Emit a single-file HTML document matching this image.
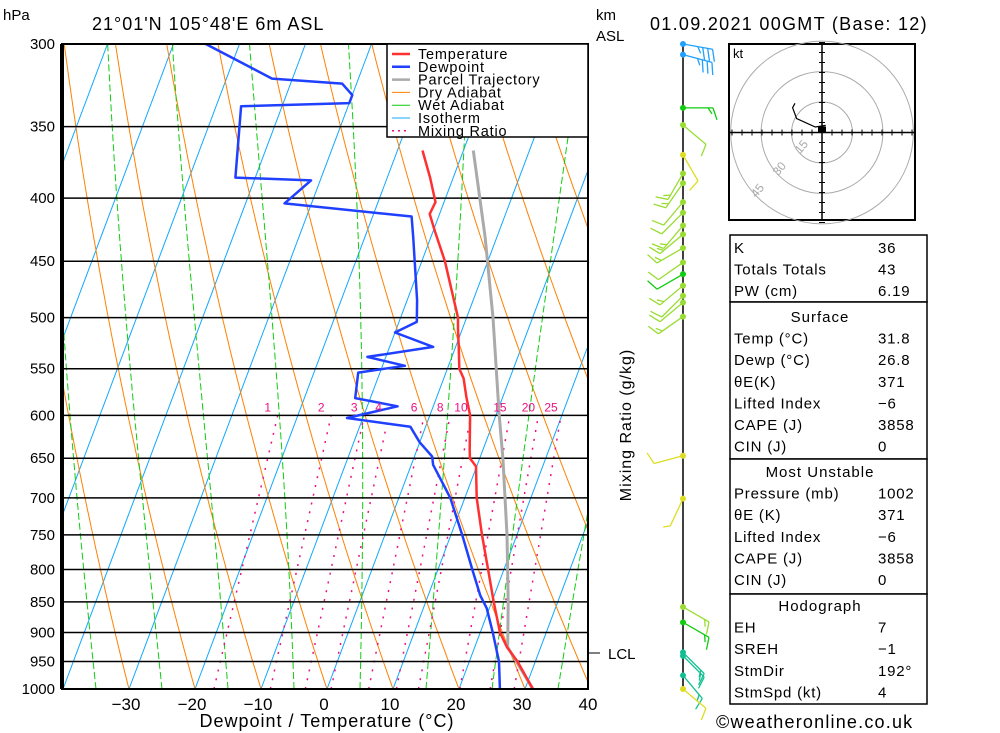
<!DOCTYPE html>
<html><head><meta charset="utf-8">
<style>
html,body{margin:0;padding:0;background:#fff;}
svg{display:block;font-family:"Liberation Sans",sans-serif;}
</style></head>
<body>
<svg id="chart" width="1000" height="733" viewBox="0 0 1000 733" xmlns="http://www.w3.org/2000/svg">
<defs><clipPath id="plotclip"><rect x="62" y="44" width="526" height="645"/></clipPath></defs>
<g id="bg" clip-path="url(#plotclip)"></g>
<g id="plines"></g>
<g id="series" clip-path="url(#plotclip)"></g>
<rect x="62" y="44" width="526" height="645" fill="none" stroke="#000" stroke-width="2"/>
<line x1="62" y1="44" x2="62" y2="689" stroke="#000" stroke-width="4"/>
<g id="legend">
<rect x="387" y="44" width="201" height="93" fill="#fff" stroke="#000" stroke-width="1.5"/>
</g>
<g id="axes"></g>
<text x="3" y="20" font-size="15">hPa</text>
<text x="92" y="30" font-size="18" letter-spacing="1">21°01'N  105°48'E  6m  ASL</text>
<text x="596" y="20" font-size="15">km</text>
<text x="596" y="41" font-size="15">ASL</text>
<text x="650" y="30" font-size="18" letter-spacing="1.3">01.09.2021  00GMT  (Base: 12)</text>
<text x="327" y="727" font-size="18" letter-spacing="1" text-anchor="middle">Dewpoint / Temperature (°C)</text>
<text transform="translate(631,425) rotate(-90)" font-size="16" letter-spacing="1" text-anchor="middle">Mixing Ratio (g/kg)</text>
<line x1="588" y1="653" x2="600" y2="653" stroke="#000"/>
<text x="608" y="659" font-size="15">LCL</text>
<line x1="683" y1="44" x2="683" y2="690" stroke="#000" stroke-width="1.5"/>
<g id="barbs"></g>
<g id="hodo">
<rect x="729" y="44" width="186" height="176" fill="#fff" stroke="#000" stroke-width="2"/>
<text x="733" y="58" font-size="13">kt</text>
</g>
<g id="tables"></g>
<text x="716" y="728" font-size="18" letter-spacing="1.2">©weatheronline.co.uk</text>
</svg>
<script>
// ---- data ----
const tempP=[1000,950,925,900,850,800,750,700,660,650,640,600,580,560,550,530,510,500,450,425,412,403,385,366];
const tempT=[31.2,27.3,24.9,23.0,20.3,17.6,14.7,11.8,9.9,8.5,8.0,6.1,4.5,3.0,1.8,0.6,-0.7,-1.3,-6.5,-9.8,-11.5,-11.3,-13.5,-16.2];
const dewP=[1000,950,900,860,840,800,750,700,680,658,648,631,613,603,590,581,554,547,538,528,514,504,484,430,414,404,387,385,337,335,330,323,320,300];
const dewT=[26.2,24.5,21.9,19.6,17.9,15.2,11.7,7.8,5.7,3.3,2.7,0.0,-2.3,-12.4,-5.4,-12.3,-13.3,-6.6,-12.8,-3.4,-10.0,-7.3,-8.5,-12.7,-14.1,-34.1,-31.4,-43.0,-46.2,-30.0,-30.0,-32.2,-43.1,-55.1];
const parcelP=[1000,925,850,750,650,600,500,430,366];
const parcelT=[31.2,25.0,22.5,18.5,13.5,10.5,4.0,-1.8,-8.5];
const pressureTicks=[300,350,400,450,500,550,600,650,700,750,800,850,900,950,1000];
const tempTicks=[-30,-20,-10,0,10,20,30,40];
const mixRatios=[1,2,3,4,6,8,10,15,20,25];
const barbP=[300,306,338,349,369,382,389,403,411,421,428,439,451,461,471,480,486,499,647,701,858,883,934,940,975,1000];
const barbDir=[100,105,90,130,150,210,215,220,225,220,230,240,235,240,230,225,230,235,255,205,120,120,135,135,140,130];
const barbSpd=[35,35,15,10,10,15,15,10,10,15,15,15,10,10,15,10,10,15,10,5,15,15,15,15,15,10];
const barbCol=["#20a0ff","#20a0ff","#10cc10","#99dd33","#dddd22","#99dd33","#99dd33","#99dd33","#99dd33","#99dd33","#99dd33","#99dd33","#99dd33","#10cc10","#99dd33","#99dd33","#99dd33","#99dd33","#dddd22","#dddd22","#99dd33","#10cc10","#10c090","#10c090","#10c090","#dddd22"];
const hodoU=[1.8,-3.3,-12.5,-14.5,-13.3];
const hodoV=[3.5,2.7,6.9,12.2,14.4];
const hodoRings=[15,30,45];
const tableRows=[
 ["K","36"],["Totals Totals","43"],["PW (cm)","6.19"],
 ["#Surface"],["Temp (°C)","31.8"],["Dewp (°C)","26.8"],["θE(K)","371"],["Lifted Index","−6"],["CAPE (J)","3858"],["CIN (J)","0"],
 ["#Most Unstable"],["Pressure (mb)","1002"],["θE (K)","371"],["Lifted Index","−6"],["CAPE (J)","3858"],["CIN (J)","0"],
 ["#Hodograph"],["EH","7"],["SREH","−1"],["StmDir","192°"],["StmSpd (kt)","4"]];

// ---- axes ----
const NS="http://www.w3.org/2000/svg";
function Y(p){return 44+Math.log(p/300)/Math.log(1000/300)*645;}
function X(T,p){return 327+6.6*T+(689-Y(p))/2.66;}
function mk(tag,attrs,parent){const e=document.createElementNS(NS,tag);for(const k in attrs)e.setAttribute(k,attrs[k]);parent.appendChild(e);return e;}
const bg=document.getElementById('bg');
for(let T=-120;T<=40;T+=10){
 const l=mk('line',{x1:X(T,1000),y1:Y(1000),x2:X(T,300),y2:Y(300),stroke:'#10a8ff','stroke-width':1},bg);
 
 
}
for(let T0=-60;T0<=150;T0+=10){
 let d='';
 for(let p=1000;p>=300;p-=10){const T=(T0+273.15)*Math.pow(p/1000,0.21)-273.15;d+=(p==1000?'M':'L')+X(T,p).toFixed(1)+','+Y(p).toFixed(1);}
 const e=mk('path',{d:d,fill:'none',stroke:'#ff8000','stroke-width':1},bg);
 
 
}
function es(Tc){return 6.112*Math.exp(17.67*Tc/(Tc+243.5));}
for(let T0=-45;T0<=45;T0+=10){
 let T=T0+273.15,d='M'+X(T0,1000).toFixed(1)+','+Y(1000).toFixed(1);
 for(let p=1000;p>300;p-=5){
  const e=es(T-273.15),rs=0.622*e/(p-e);
  const g=0.6*(287*T+2.5e6*rs)/(1004+2.5e6*2.5e6*rs*0.622/(287*T*T));
  T-=g*(5/p);
  d+='L'+X(T-273.15,p-5).toFixed(1)+','+Y(p-5).toFixed(1);
 }
 const e=mk('path',{d:d,fill:'none',stroke:'#10cc10','stroke-width':1,'stroke-dasharray':'7,3'},bg);
 
 
}
function tdw(w,p){const e=w*p/(622+w),a=Math.log(e/6.112);return 243.5*a/(17.67-a);}
mixRatios.forEach(w=>{
 const e=mk('line',{x1:X(tdw(w,1000),1000),y1:Y(1000),x2:X(tdw(w,600),600),y2:Y(600),stroke:'#ee1080','stroke-width':1.5,'stroke-dasharray':'2,7'},bg);
 
 
 const t=mk('text',{x:X(tdw(w,600),600)-10,y:Y(600)-4,'font-size':12,fill:'#ee1080','text-anchor':'middle'},document.getElementById('axes'));
 t.textContent=w;
 
 
});
const pl=document.getElementById('plines'),ax=document.getElementById('axes');
pressureTicks.forEach(p=>{
 const l=mk('line',{x1:62,y1:Y(p),x2:588,y2:Y(p),stroke:'#000','stroke-width':1.5},pl);
 
 
 const t=mk('text',{x:55,y:Y(p)+5,'font-size':15,'text-anchor':'end'},ax);
 t.textContent=p;
 
 
});
tempTicks.forEach(T=>{
 const t=mk('text',{x:X(T,1000)-3,y:710,'font-size':17,'text-anchor':'middle'},ax);
 t.textContent=T<0?'−'+(-T):T;
 
 
});
const ser=document.getElementById('series');
function line(P,T,col,w,name){
 const d=P.map((p,i)=>(i?'L':'M')+X(T[i],p).toFixed(1)+','+Y(p).toFixed(1)).join('');
 const e=mk('path',{d:d,fill:'none',stroke:col,'stroke-width':w,'stroke-linejoin':'round'},ser);
 
 
}
line(parcelP,parcelT,'#aaaaaa',3,'parcel-trajectory-line');
line(tempP,tempT,'#ff3030',2.5,'temperature-line');
line(dewP,dewT,'#2040ff',2.5,'dewpoint-line');
const lg=document.getElementById('legend');
const legItems=[["Temperature","#ff3030",2.5,""],["Dewpoint","#2040ff",2.5,""],["Parcel Trajectory","#aaaaaa",2.5,""],["Dry Adiabat","#ff8000",1,""],["Wet Adiabat","#10cc10",1,""],["Isotherm","#10a8ff",1,""],["Mixing Ratio","#ee1080",1.5,"2,4"]];
legItems.forEach((it,i)=>{
 const y=54+i*12.8;
 const l=mk('line',{x1:392,y1:y,x2:410,y2:y,stroke:it[1],'stroke-width':it[2]},lg);
 if(it[3])l.setAttribute('stroke-dasharray',it[3]);
 const t=mk('text',{x:418,y:y+5,'font-size':14.5,'letter-spacing':0.8},lg);
 t.textContent=it[0];
 
 
});
const bb=document.getElementById('barbs');
barbP.forEach((p,i)=>{
 const y=Y(p),x=683,a=barbDir[i]*Math.PI/180,L=30;
 const dx=Math.sin(a),dy=-Math.cos(a);
 const ex=x+dx*L,ey=y+dy*L;
 const g=mk('g',{stroke:barbCol[i],'stroke-width':1.3,fill:'none'},bb);
 
 
 mk('line',{x1:x,y1:y,x2:ex,y2:ey},g);
 mk('circle',{cx:x,cy:y,r:3,fill:barbCol[i],stroke:'none'},g);
 let s=barbSpd[i],k=0;
 const px=-dy,py=dx;
 while(s>=5){
  const len=s>=10?12:6;
  const bx=ex-dx*k*5,by=ey-dy*k*5;
  mk('line',{x1:bx,y1:by,x2:bx+px*len+dx*4,y2:by+py*len+dy*4},g);
  s-=s>=10?10:5;k++;
 }
});
const hg=document.getElementById('hodo'),cx=822,cy=132.5,sc=2.03;
hodoRings.forEach(r=>{
 mk('circle',{cx:cx,cy:cy,r:r*sc,fill:'none',stroke:'#aaa','stroke-width':1},hg);
 const t=mk('text',{x:cx-r*sc*0.72,y:cy+r*sc*0.72,'font-size':12,fill:'#aaa',transform:`rotate(-50 ${cx-r*sc*0.72} ${cy+r*sc*0.72})`},hg);
 t.textContent=r;
});
mk('line',{x1:729,y1:cy,x2:915,y2:cy,stroke:'#000','stroke-width':1.5},hg);
mk('line',{x1:cx,y1:44,x2:cx,y2:220,stroke:'#000','stroke-width':1.5},hg);
for(let k=-9;k<=9;k++){if(!k)continue;
 mk('line',{x1:cx+k*10,y1:cy-3,x2:cx+k*10,y2:cy+3,stroke:'#000'},hg);
 mk('line',{x1:cx-3,y1:cy+k*10,x2:cx+3,y2:cy+k*10,stroke:'#000'},hg);}
const hd=hodoU.map((u,i)=>(i?'L':'M')+(cx+u*sc).toFixed(1)+','+(cy-hodoV[i]*sc).toFixed(1)).join('');
const hp=mk('path',{d:hd,fill:'none',stroke:'#000','stroke-width':1.2},hg);


mk('rect',{x:cx-4,y:cy-6,width:8,height:6,fill:'#000'},hg);
const tb=document.getElementById('tables');
const boxes=[[235,302],[302,459],[459,594],[594,704]];
boxes.forEach(b=>{const r=mk('rect',{x:730,y:b[0],width:197,height:b[1]-b[0],fill:'#fff',stroke:'#000','stroke-width':1.5},tb);
 });
const boxStart=[247,316,471,605];
let bi=-1,ri=0;
tableRows.forEach((r,i)=>{
 if(i===0||r[0][0]=='#'){bi++;ri=0;}
 const y=boxStart[bi]+ri*21.6+6;ri++;
 if(r[0][0]=='#'){const t=mk('text',{x:820,y:y,'font-size':15,'letter-spacing':1,'text-anchor':'middle'},tb);t.textContent=r[0].slice(1);
  return;}
 const a=mk('text',{x:734,y:y,'font-size':15,'letter-spacing':0.8},tb);a.textContent=r[0];
 
 const v=mk('text',{x:878,y:y,'font-size':15,'letter-spacing':0.8},tb);v.textContent=r[1];
 
});
</script>
</body></html>
